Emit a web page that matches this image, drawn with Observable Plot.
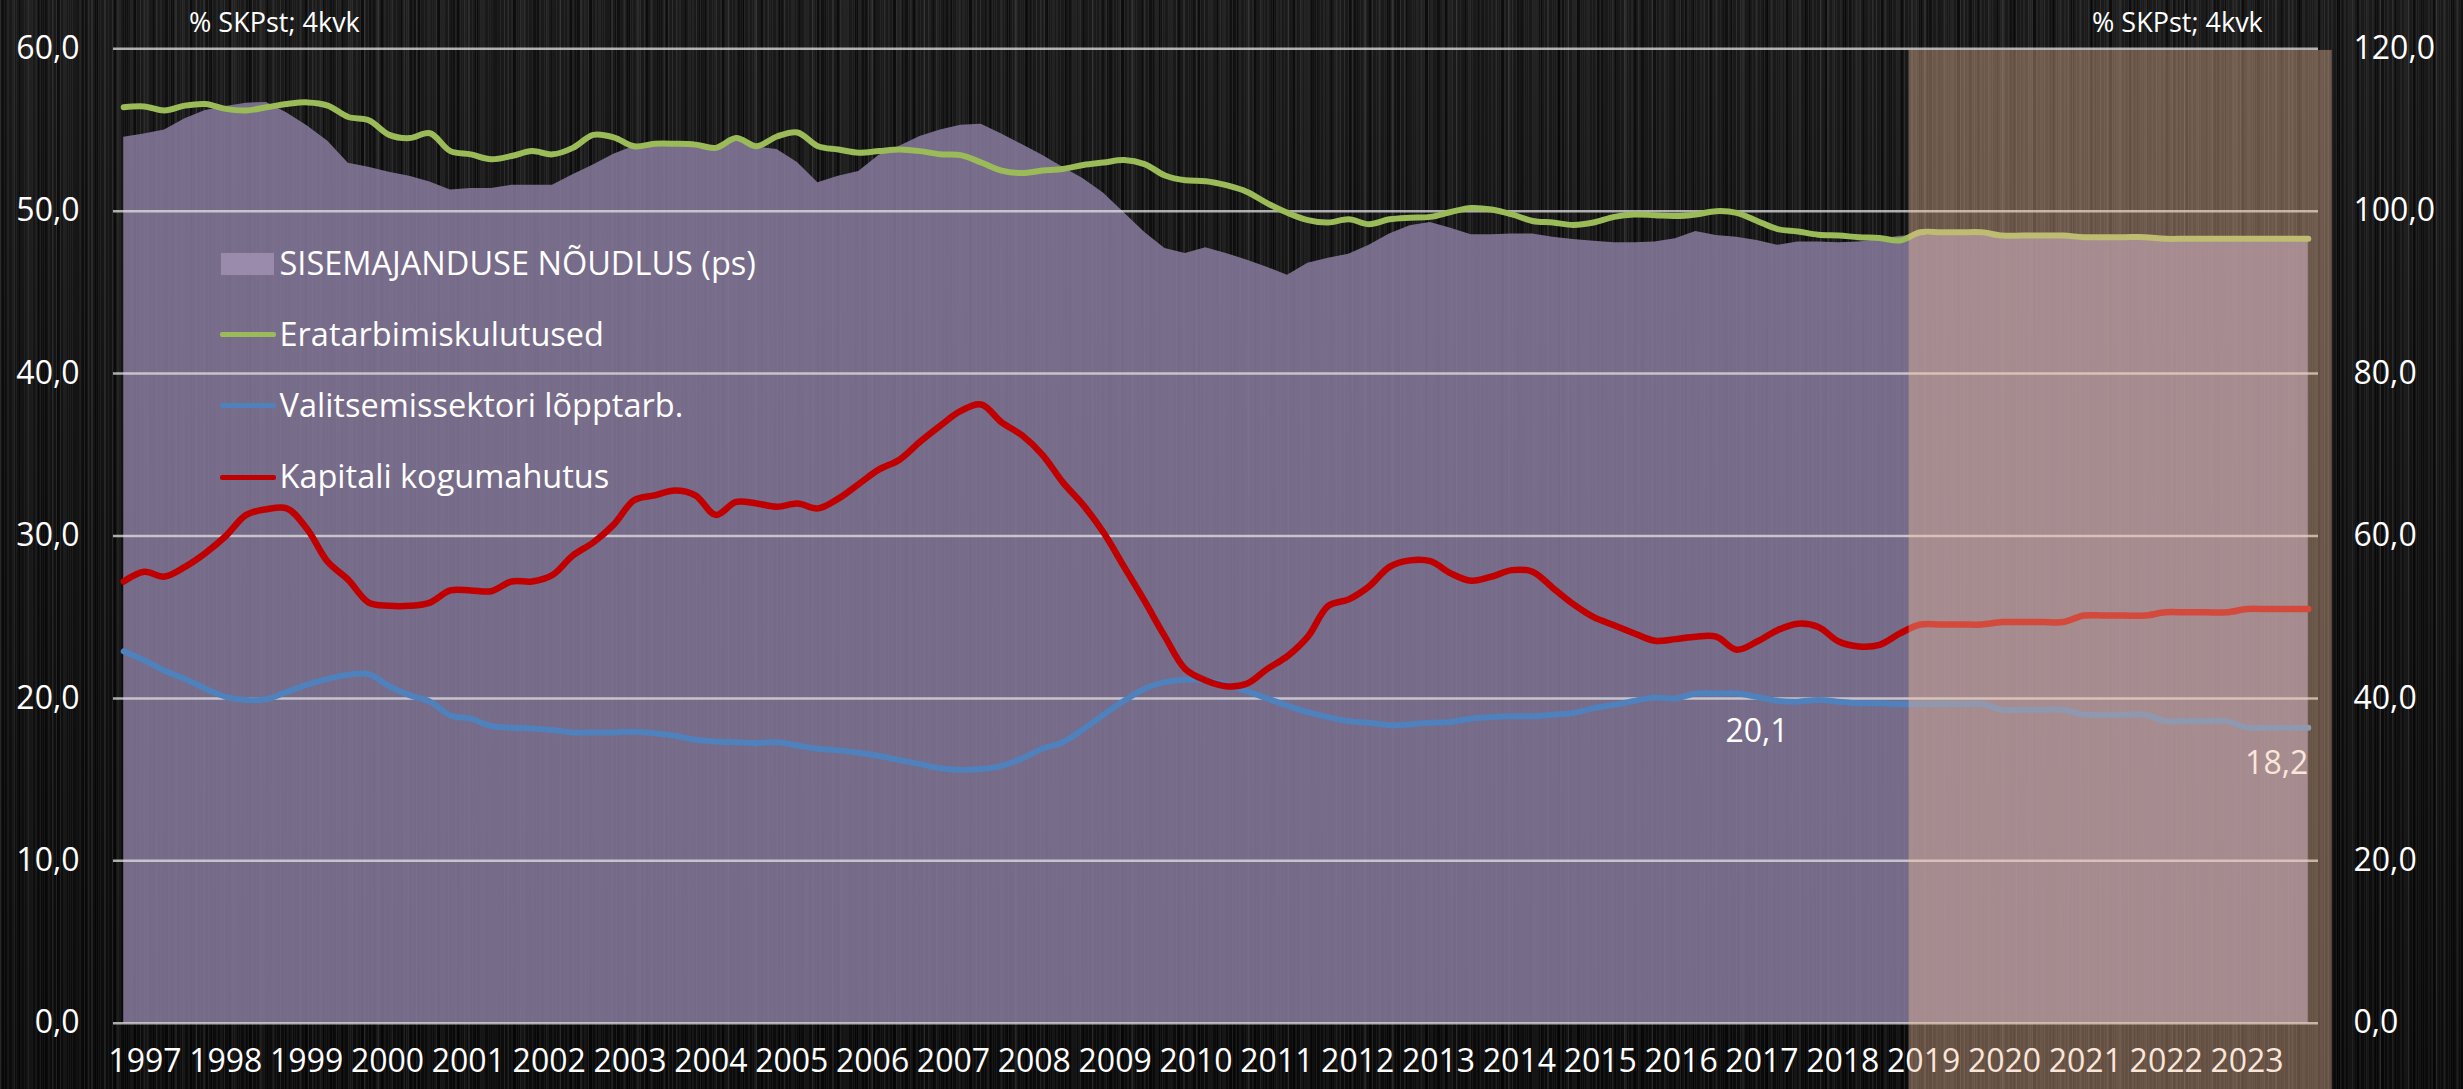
<!DOCTYPE html>
<html>
<head>
<meta charset="utf-8">
<script src="https://cdn.jsdelivr.net/npm/d3@7"></script>
<script src="https://cdn.jsdelivr.net/npm/@observablehq/plot@0.6"></script>
<style>
  html, body { margin: 0; padding: 0; background: #0a0a0a; }
  #wrap {
    position: relative; width: 2463px; height: 1089px; overflow: hidden;
    background-color: #0c0c0c;
    background-image:
      repeating-linear-gradient(90deg, rgba(255,255,255,0.05) 0px, rgba(255,255,255,0.05) 1px, transparent 1px, transparent 4px),
      repeating-linear-gradient(90deg, rgba(255,255,255,0.045) 0px, rgba(255,255,255,0.045) 1px, transparent 1px, transparent 7px),
      repeating-linear-gradient(90deg, rgba(255,255,255,0.04) 0px, rgba(255,255,255,0.04) 2px, transparent 2px, transparent 13px),
      repeating-linear-gradient(90deg, rgba(0,0,0,0.5) 0px, rgba(0,0,0,0.5) 3px, transparent 3px, transparent 19px),
      repeating-linear-gradient(90deg, rgba(255,255,255,0.035) 0px, rgba(255,255,255,0.035) 3px, transparent 3px, transparent 29px),
      repeating-linear-gradient(90deg, rgba(0,0,0,0.35) 0px, rgba(0,0,0,0.35) 6px, transparent 6px, transparent 41px),
      linear-gradient(180deg, #1a1a1a, #111111 50%, #0b0b0b);
    font-family: 'Open Sans', sans-serif;
    color: #fff;
  }
  #wrap svg { position: absolute; left: 0; top: 0; }
  .unit { position: absolute; font-size: 27px; line-height: 27px; white-space: nowrap; }
  .legtxt { position: absolute; font-size: 32.5px; line-height: 32px; white-space: nowrap; color: #fff; }
  .legsw { position: absolute; }
</style>
</head>
<body>
<div id="wrap"></div>
<script>
// ---------------- DATA (quarterly, 1997Q1 ... 2023Q4; 2019+ = forecast) ----------------
const yearLabels = ["1997","1998","1999","2000","2001","2002","2003","2004","2005","2006","2007","2008","2009",
  "2010","2011","2012","2013","2014","2015","2016","2017","2018","2019","2020","2021","2022","2023"];
const forecastStartYear = "2019";
const leftTicks = [0, 10, 20, 30, 40, 50, 60];
const rightTicks = [0, 20, 40, 60, 80, 100, 120];
const unitLabel = "% SKPst; 4kvk";
const seriesNames = ["SISEMAJANDUSE NÕUDLUS (ps)", "Eratarbimiskulutused", "Valitsemissektori lõpptarb.", "Kapitali kogumahutus"];

// Domestic demand, % of GDP (right axis)
const demand = [
  109.1,109.5,110.0,111.4, 112.4,112.9,113.3,113.4, 112.1,110.5,108.6,105.9,
  105.4,104.8,104.3,103.6, 102.6,102.8,102.8,103.2, 103.2,103.2,104.5,105.7,
  107.0,108.0,108.1,108.0, 107.9,108.0,109.3,107.9, 107.6,106.0,103.5,104.3,
  104.9,106.9,108.0,109.2, 110.0,110.6,110.7,109.5, 108.2,106.9,105.4,104.0,
  102.2,99.8,97.4,95.4, 94.8,95.5,94.8,94.0, 93.1,92.1,93.6,94.2,
  94.7,95.8,97.2,98.2, 98.6,97.9,97.1,97.1, 97.2,97.2,96.8,96.5,
  96.3,96.1,96.1,96.2, 96.6,97.5,97.0,96.8, 96.4,95.8,96.2,96.2,
  96.1,96.2,96.5,96.9, 97.0,97.0,97.0,97.0, 96.8,96.8,96.8,96.8,
  96.6,96.6,96.6,96.6, 96.4,96.4,96.4,96.4, 96.4,96.4,96.4,96.4
];
// Private consumption, % of GDP (left axis)
const privCons = [
  56.4,56.45,56.2,56.5, 56.6,56.3,56.2,56.4, 56.6,56.7,56.5,55.8,
  55.6,54.7,54.5,54.8, 53.7,53.5,53.2,53.4, 53.7,53.5,53.9,54.7,
  54.55,54.0,54.15,54.15, 54.1,53.9,54.5,54.0, 54.6,54.85,54.0,53.8,
  53.6,53.7,53.8,53.7, 53.5,53.45,53.0,52.5, 52.35,52.5,52.6,52.85,
  53.0,53.15,52.9,52.2, 51.9,51.85,51.6,51.2, 50.5,49.9,49.45,49.3,
  49.5,49.2,49.5,49.6, 49.65,49.95,50.2,50.1, 49.8,49.4,49.3,49.15,
  49.3,49.65,49.8,49.75, 49.7,49.8,50.0,49.9, 49.4,48.9,48.75,48.55,
  48.5,48.4,48.35,48.2, 48.7,48.7,48.7,48.7, 48.5,48.5,48.5,48.5,
  48.4,48.4,48.4,48.4, 48.3,48.3,48.3,48.3, 48.3,48.3,48.3,48.3
];
// Government final consumption, % of GDP (left axis)
const govCons = [
  22.9,22.35,21.7,21.2, 20.6,20.1,19.9,19.95, 20.4,20.85,21.2,21.45,
  21.5,20.75,20.2,19.8, 18.95,18.75,18.3,18.2, 18.15,18.05,17.9,17.9,
  17.9,17.95,17.85,17.7, 17.45,17.35,17.3,17.25, 17.3,17.1,16.9,16.8,
  16.65,16.45,16.2,15.95, 15.7,15.6,15.65,15.85, 16.3,16.9,17.3,18.1,
  19.0,19.85,20.6,21.0, 21.15,21.1,20.85,20.45, 20.0,19.55,19.15,18.85,
  18.6,18.5,18.35,18.4, 18.5,18.55,18.75,18.85, 18.9,18.9,19.0,19.1,
  19.4,19.6,19.85,20.05, 20.0,20.3,20.3,20.3, 20.1,19.85,19.8,19.9,
  19.8,19.7,19.7,19.65, 19.65,19.65,19.65,19.65, 19.3,19.3,19.3,19.3,
  19.0,19.0,19.0,19.0, 18.6,18.6,18.6,18.6, 18.2,18.2,18.2,18.2
];
// Gross capital formation, % of GDP (left axis)
const capForm = [
  27.2,27.8,27.5,28.1, 28.95,30.0,31.3,31.65, 31.7,30.4,28.4,27.3,
  25.9,25.7,25.7,25.9, 26.65,26.65,26.6,27.2, 27.2,27.6,28.8,29.6,
  30.7,32.2,32.5,32.8, 32.5,31.3,32.1,32.0, 31.8,32.0,31.7,32.3,
  33.2,34.1,34.7,35.8, 36.8,37.7,38.1,37.0, 36.2,35.0,33.3,31.9,
  30.2,28.1,26.0,23.8, 21.8,21.1,20.75,20.9, 21.8,22.6,23.8,25.7,
  26.1,26.9,28.1,28.5, 28.45,27.7,27.25,27.5, 27.9,27.8,26.8,25.8,
  25.0,24.5,24.0,23.55, 23.65,23.8,23.8,23.0, 23.5,24.2,24.6,24.4,
  23.5,23.2,23.3,24.0, 24.55,24.55,24.55,24.55, 24.7,24.7,24.7,24.7,
  25.1,25.1,25.1,25.1, 25.3,25.3,25.3,25.3, 25.5,25.5,25.5,25.5
];
// Data labels shown on the government series (quarter index): mid-chart and last point
const govLabelMid = [80];
const govLabelEnd = [107];

// ---------------- STYLE ----------------
const C = {
  area: "rgb(136,123,157)", areaSwatch: "rgb(154,139,172)",
  green: "#9bbb59", blue: "#4f81bd", red: "#c00000",
  grid: "#e2e2e2", overlay: "rgb(243,190,154)"
};
const fmt = d => d.toFixed(1).replace(".", ",");

const n = demand.length;
const rows = demand.map((v, i) => ({i, demand: v, priv: privCons[i], gov: govCons[i], cap: capForm[i]}));
const fIdx = yearLabels.indexOf(forecastStartYear) * 4;
const labelStep = 3.96, labelOffset = 1.04;   // Excel spreads the year labels slightly tighter than the quarters

const W = 2463, H = 1089;
const chart = Plot.plot({
  width: W, height: H,
  marginLeft: 113, marginRight: 145, marginTop: 48.3, marginBottom: 66.3,
  style: {background: "transparent", fontFamily: "'Open Sans', sans-serif", color: "#fff", overflow: "visible"},
  x: {domain: [-0.5, n - 0.5], axis: null},
  y: {domain: [0, 60], axis: null},
  marks: [
    Plot.areaY(rows, {x: "i", y: d => d.demand / 2, fill: C.area, fillOpacity: 0.85}),
    Plot.ruleY(leftTicks, {stroke: C.grid, strokeWidth: 2.5, strokeOpacity: 0.75}),
    Plot.line(rows, {x: "i", y: "gov", stroke: C.blue, strokeWidth: 6, curve: "catmull-rom", strokeLinecap: "round"}),
    Plot.line(rows, {x: "i", y: "priv", stroke: C.green, strokeWidth: 6, curve: "catmull-rom", strokeLinecap: "round"}),
    Plot.line(rows, {x: "i", y: "cap", stroke: C.red, strokeWidth: 6.5, curve: "catmull-rom", strokeLinecap: "round"}),
    // left axis labels
    Plot.text(leftTicks, {y: d => d, frameAnchor: "left", dx: -34, textAnchor: "end", text: d => fmt(d), fill: "#fff", fontSize: 32}),
    // right axis labels (same pixel positions, doubled values)
    Plot.text(rightTicks, {y: d => d / 2, frameAnchor: "right", dx: 35, textAnchor: "start", text: d => fmt(d), fill: "#fff", fontSize: 32}),
    // year labels
    Plot.text(yearLabels, {x: (d, k) => labelOffset + k * labelStep, frameAnchor: "bottom", dy: 49, text: d => d, fill: "#fff", fontSize: 32}),
    // data labels
    Plot.text(govLabelMid, {x: d => d, y: d => govCons[d], dy: 35, text: d => fmt(govCons[d]), textAnchor: "middle", fill: "#fff", fontSize: 32}),
    Plot.text(govLabelEnd, {x: d => d, y: d => govCons[d], dy: 36, text: d => fmt(govCons[d]), textAnchor: "end", fill: "#fff", fontSize: 32}),
    // forecast overlay, over everything
    Plot.rect([{x1: fIdx - 0.55, x2: n - 1 + 1.17, y1: 59.9, y2: -4.1}], {x1: "x1", x2: "x2", y1: "y1", y2: "y2", fill: C.overlay, fillOpacity: 0.39})
  ]
});

const wrap = document.getElementById("wrap");
wrap.appendChild(chart);

// unit labels
[189, 2092].forEach(left => {
  const s = document.createElement("div");
  s.className = "unit"; s.textContent = unitLabel;
  s.style.left = left + "px"; s.style.top = "8px";
  wrap.appendChild(s);
});

// legend
const legColors = [C.areaSwatch, C.green, C.blue, C.red];
seriesNames.forEach((name, k) => {
  const yc = 263.5 + k * 71.2;
  const sw = document.createElement("div");
  sw.className = "legsw";
  if (k === 0) {
    Object.assign(sw.style, {left: "221px", top: (yc - 11) + "px", width: "53px", height: "22px", background: legColors[k]});
  } else {
    Object.assign(sw.style, {left: "220px", top: (yc - 2.5) + "px", width: "56px", height: "5px", background: legColors[k], borderRadius: "2px"});
  }
  wrap.appendChild(sw);
  const t = document.createElement("div");
  t.className = "legtxt"; t.textContent = name;
  t.style.left = "279.5px"; t.style.top = (yc - 17) + "px";
  wrap.appendChild(t);
});
</script>
</body>
</html>
